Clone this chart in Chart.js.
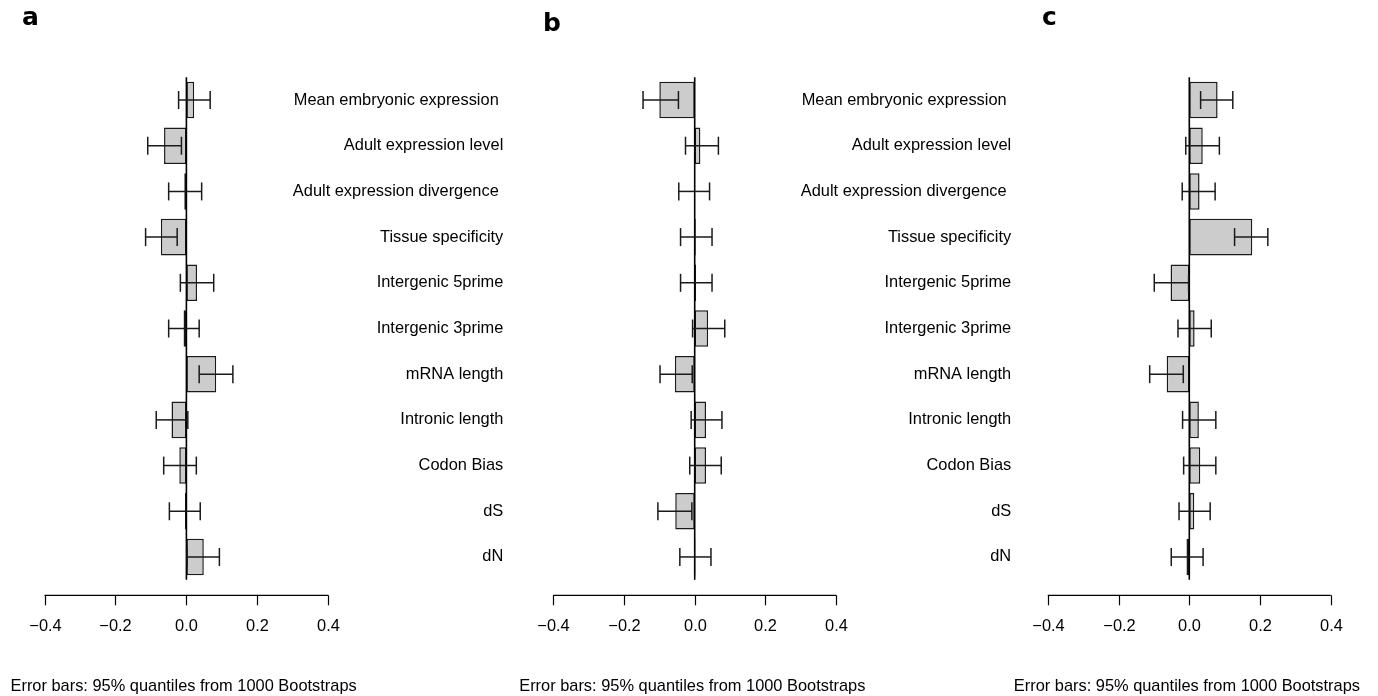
<!DOCTYPE html>
<html>
<head>
<meta charset="utf-8">
<script src="https://cdn.jsdelivr.net/npm/chart.js@4/dist/chart.umd.min.js"></script>
<style>
  html, body { margin: 0; padding: 0; background: #fff; }
  body { width: 1378px; height: 696px; position: relative; overflow: hidden; }
  .panel { position: absolute; top: 0; }
</style>
</head>
<body>
<div class="panel" style="left:0px"><canvas id="chartA" width="520" height="696"></canvas></div>
<div class="panel" style="left:510px"><canvas id="chartB" width="520" height="696"></canvas></div>
<div class="panel" style="left:1000px"><canvas id="chartC" width="378" height="696"></canvas></div>
<script>
const categories = [
  "Mean embryonic expression ",
  "Adult expression level",
  "Adult expression divergence ",
  "Tissue specificity",
  "Intergenic 5prime",
  "Intergenic 3prime",
  "mRNA length",
  "Intronic length",
  "Codon Bias",
  "dS",
  "dN",
];

const xTicks = [-0.4, -0.2, 0, 0.2, 0.4];
const xTickLabels = ["\u22120.4", "\u22120.2", "0.0", "0.2", "0.4"];
const footnote = "Error bars: 95% quantiles from 1000 Bootstraps";

// panel a
const meansA = [0.022, -0.063, -0.006, -0.072, 0.030, -0.008, 0.084, -0.042, -0.020, -0.004, 0.049];
const lowA = [-0.022, -0.109, -0.050, -0.115, -0.017, -0.050, 0.036, -0.085, -0.064, -0.048, 0.002];
const highA = [0.067, -0.014, 0.043, -0.026, 0.077, 0.036, 0.131, 0.004, 0.028, 0.039, 0.093];

// panel b
const meansB = [-0.100, 0.016, -0.002, 0.003, 0.004, 0.038, -0.056, 0.032, 0.032, -0.055, 0.002];
const lowB = [-0.146, -0.026, -0.045, -0.040, -0.040, -0.006, -0.098, -0.010, -0.014, -0.104, -0.042];
const highB = [-0.046, 0.067, 0.042, 0.049, 0.049, 0.085, -0.007, 0.077, 0.075, -0.008, 0.046];

// panel c
const meansC = [0.080, 0.038, 0.029, 0.178, -0.053, 0.015, -0.064, 0.027, 0.031, 0.014, -0.008];
const lowC = [0.032, -0.010, -0.020, 0.128, -0.099, -0.032, -0.112, -0.019, -0.016, -0.029, -0.051];
const highC = [0.123, 0.085, 0.073, 0.222, -0.002, 0.062, -0.017, 0.075, 0.075, 0.059, 0.039];

const FONT = '"Liberation Sans", Arial, Helvetica, sans-serif';
const TEXT_SIZE = "16.4px ";

const panels = [
  { canvas: "chartA", letter: "a", offset: 0, width: 520, plotLeft: 44.5, plotRight: 328.3,
    letterX: 22, letterY: 25, showLabels: true, means: meansA, low: lowA, high: highA },
  { canvas: "chartB", letter: "b", offset: 510, width: 520, plotLeft: 553.2, plotRight: 836.2,
    letterX: 543, letterY: 31, showLabels: true, means: meansB, low: lowB, high: highB },
  { canvas: "chartC", letter: "c", offset: 1000, width: 378, plotLeft: 1047.8, plotRight: 1330.8,
    letterX: 1042, letterY: 25, showLabels: false, means: meansC, low: lowC, high: highC },
];

const PLOT_TOP = 77.2;
const PLOT_BOTTOM = 579.8;

function line(ctx, x1, y1, x2, y2) {
  ctx.beginPath();
  ctx.moveTo(x1, y1);
  ctx.lineTo(x2, y2);
  ctx.stroke();
}

// R-like extras: zero line, error bars, axis, labels
const rStylePlugin = {
  id: "rStyle",
  afterDatasetsDraw(chart, args, opts) {
    const ctx = chart.ctx;
    const xs = chart.scales.x;
    const ys = chart.scales.y;
    const area = chart.chartArea;

    ctx.save();
    ctx.strokeStyle = "#000";

    // zero reference line
    ctx.lineWidth = 1.6;
    const x0 = xs.getPixelForValue(0);
    line(ctx, x0, area.top, x0, area.bottom);

    // error bars
    ctx.lineWidth = 1.5;
    ctx.strokeStyle = "#1a1a1a";
    opts.low.forEach((lo, i) => {
      const yc = ys.getPixelForValue(i);
      const xl = xs.getPixelForValue(lo);
      const xh = xs.getPixelForValue(opts.high[i]);
      line(ctx, xl, yc, xh, yc);
      line(ctx, xl, yc - 9, xl, yc + 9);
      line(ctx, xh, yc - 9, xh, yc + 9);
    });

    // bottom axis
    ctx.strokeStyle = "#000";
    ctx.lineWidth = 1.2;
    const ay = area.bottom + 15.5;
    line(ctx, xs.getPixelForValue(xTicks[0]), ay, xs.getPixelForValue(xTicks[xTicks.length - 1]), ay);
    ctx.fillStyle = "#000";
    ctx.font = TEXT_SIZE + FONT;
    ctx.textAlign = "center";
    ctx.textBaseline = "middle";
    xTicks.forEach((t, i) => {
      const px = Math.round(xs.getPixelForValue(t)) + 0.5;
      line(ctx, px, ay, px, ay + 10);
      ctx.fillText(xTickLabels[i], px, ay + 31);
    });

    // category names to the right of the panel
    if (opts.showLabels) {
      ctx.textAlign = "right";
      chart.data.labels.forEach((lab, i) => {
        ctx.fillText(lab, area.right + 175, ys.getPixelForValue(i));
      });
    }

    // footnote
    ctx.textAlign = "left";
    ctx.fillText(footnote, area.left - 34, 686);

    // panel letter
    ctx.font = "bold 25px \"DejaVu Sans\", sans-serif";
    ctx.textBaseline = "alphabetic";
    ctx.fillText(opts.letter, opts.letterX, opts.letterY);

    ctx.restore();
  },
};

panels.forEach((p) => {
  const ctx = document.getElementById(p.canvas).getContext("2d");
  new Chart(ctx, {
    type: "bar",
    data: {
      labels: categories,
      datasets: [
        {
          data: p.means,
          backgroundColor: "#cccccc",
          borderColor: "#1a1a1a",
          borderWidth: 1.5,
          borderSkipped: false,
          barPercentage: 0.8,
          categoryPercentage: 1.0,
        },
      ],
    },
    options: {
      indexAxis: "y",
      responsive: false,
      animation: false,
      devicePixelRatio: 1,
      layout: {
        padding: {
          left: p.plotLeft - p.offset,
          right: p.offset + p.width - p.plotRight,
          top: PLOT_TOP,
          bottom: 696 - PLOT_BOTTOM,
        },
      },
      plugins: {
        legend: { display: false },
        tooltip: { enabled: false },
        rStyle: {
          low: p.low,
          high: p.high,
          showLabels: p.showLabels,
          letter: p.letter,
          letterX: p.letterX - p.offset,
          letterY: p.letterY,
        },
      },
      scales: {
        x: { type: "linear", min: -0.4, max: 0.4, display: false },
        y: { type: "category", display: false, offset: true },
      },
    },
    plugins: [rStylePlugin],
  });
});
</script>
</body>
</html>
